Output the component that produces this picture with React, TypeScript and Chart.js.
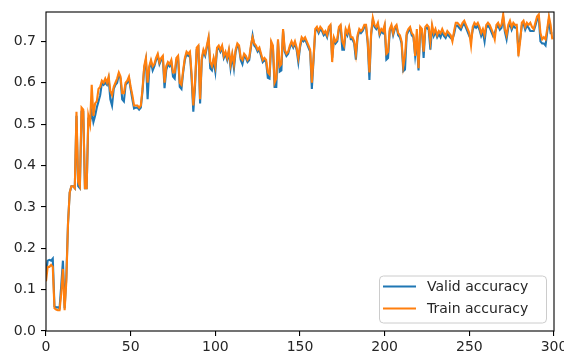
import React, { useEffect, useRef } from "react";
import { Chart, registerables } from "chart.js";

Chart.register(...registerables);

const epochs: number[] = Array.from({ length: 300 }, (_, i) => i);

const validAccuracy: number[] = [
  // 0-29
  0.14, 0.17, 0.172, 0.17, 0.175, 0.06, 0.057, 0.057, 0.055, 0.11,
  0.17, 0.055, 0.13, 0.26, 0.335, 0.35, 0.35, 0.345, 0.52, 0.35,
  0.345, 0.53, 0.53, 0.345, 0.345, 0.51, 0.505, 0.53, 0.505, 0.52,
  // 30-59
  0.54, 0.555, 0.57, 0.6, 0.595, 0.6, 0.595, 0.61, 0.56, 0.545,
  0.585, 0.595, 0.6, 0.62, 0.61, 0.56, 0.555, 0.595, 0.6, 0.61,
  0.585, 0.56, 0.538, 0.54, 0.54, 0.535, 0.54, 0.58, 0.635, 0.655,
  // 60-89
  0.56, 0.635, 0.65, 0.63, 0.64, 0.655, 0.665, 0.645, 0.655, 0.66,
  0.587, 0.63, 0.645, 0.64, 0.65, 0.615, 0.61, 0.655, 0.66, 0.59,
  0.585, 0.625, 0.655, 0.67, 0.665, 0.67, 0.61, 0.53, 0.59, 0.68,
  // 90-129
  0.685, 0.55, 0.655, 0.675, 0.665, 0.685, 0.705, 0.635, 0.63, 0.655,
  0.627, 0.68, 0.685, 0.675, 0.685, 0.66, 0.67, 0.655, 0.675, 0.636,
  0.665, 0.635, 0.675, 0.69, 0.685, 0.655, 0.645, 0.665, 0.66, 0.65,
  0.655, 0.685, 0.714, 0.69, 0.685, 0.675, 0.68, 0.665, 0.65, 0.655,
  // 130-169
  0.65, 0.612, 0.61, 0.695, 0.685, 0.59, 0.59, 0.7, 0.627, 0.63,
  0.725, 0.675, 0.665, 0.67, 0.685, 0.695, 0.685, 0.695, 0.68, 0.65,
  0.685, 0.705, 0.7, 0.705, 0.695, 0.685, 0.675, 0.585, 0.655, 0.725,
  0.73, 0.72, 0.73, 0.725, 0.715, 0.72, 0.71, 0.73, 0.735, 0.66,
  // 170-209
  0.705, 0.695, 0.7, 0.73, 0.735, 0.68, 0.68, 0.725, 0.715, 0.73,
  0.705, 0.705, 0.695, 0.656, 0.71, 0.725, 0.72, 0.725, 0.735, 0.735,
  0.695, 0.607, 0.715, 0.752, 0.735, 0.73, 0.74, 0.715, 0.725, 0.72,
  0.735, 0.656, 0.66, 0.725, 0.735, 0.715, 0.73, 0.735, 0.715, 0.71,
  // 210-249
  0.695, 0.628, 0.632, 0.715, 0.725, 0.73, 0.715, 0.71, 0.665, 0.7,
  0.63, 0.73, 0.725, 0.66, 0.73, 0.733, 0.728, 0.68, 0.733, 0.713,
  0.723, 0.71, 0.718, 0.71, 0.723, 0.713, 0.708, 0.718, 0.713, 0.708,
  0.705, 0.718, 0.738, 0.738, 0.733, 0.728, 0.738, 0.743, 0.733, 0.723,
  // 250-299
  0.713, 0.705, 0.728, 0.738, 0.733, 0.738, 0.728, 0.713, 0.723, 0.7,
  0.733, 0.738, 0.733, 0.723, 0.713, 0.72, 0.733, 0.738, 0.728, 0.733,
  0.758, 0.723, 0.705, 0.733, 0.743, 0.728, 0.738, 0.733, 0.733, 0.68,
  0.705, 0.738, 0.743, 0.728, 0.738, 0.733, 0.725, 0.725, 0.725, 0.738,
  0.753, 0.758, 0.7, 0.695, 0.695, 0.69, 0.723, 0.753, 0.72, 0.72,
];

const trainAccuracy: number[] = [
  // 0-29
  0.12, 0.155, 0.155, 0.16, 0.155, 0.055, 0.052, 0.05, 0.05, 0.09,
  0.15, 0.05, 0.12, 0.26, 0.335, 0.35, 0.35, 0.345, 0.53, 0.36,
  0.35, 0.54, 0.535, 0.345, 0.345, 0.52, 0.5, 0.595, 0.52, 0.55,
  // 30-59
  0.555, 0.585, 0.59, 0.605, 0.6, 0.61, 0.6, 0.615, 0.58, 0.57,
  0.59, 0.6, 0.61, 0.625, 0.615, 0.575, 0.575, 0.6, 0.605, 0.615,
  0.59, 0.57, 0.545, 0.545, 0.545, 0.54, 0.545, 0.585, 0.64, 0.66,
  // 60-89
  0.6, 0.64, 0.655, 0.64, 0.645, 0.66, 0.67, 0.65, 0.66, 0.665,
  0.6, 0.64, 0.65, 0.645, 0.655, 0.625, 0.625, 0.66, 0.665, 0.6,
  0.595, 0.63, 0.66, 0.675, 0.67, 0.675, 0.62, 0.545, 0.6, 0.685,
  // 90-129
  0.69, 0.56, 0.66, 0.68, 0.67, 0.69, 0.71, 0.65, 0.64, 0.66,
  0.64, 0.685, 0.69, 0.68, 0.69, 0.665, 0.675, 0.66, 0.68, 0.645,
  0.67, 0.645, 0.68, 0.695, 0.69, 0.66, 0.655, 0.67, 0.665, 0.655,
  0.66, 0.69, 0.71, 0.695, 0.69, 0.68, 0.685, 0.67, 0.655, 0.66,
  // 130-169
  0.655, 0.625, 0.62, 0.7, 0.69, 0.6, 0.61, 0.705, 0.64, 0.645,
  0.73, 0.68, 0.67, 0.675, 0.69, 0.7, 0.69, 0.7, 0.685, 0.66,
  0.69, 0.71, 0.705, 0.71, 0.7, 0.69, 0.68, 0.6, 0.66, 0.73,
  0.735, 0.725, 0.735, 0.73, 0.72, 0.725, 0.715, 0.735, 0.74, 0.65,
  // 170-209
  0.71, 0.7, 0.705, 0.735, 0.74, 0.7, 0.69, 0.73, 0.72, 0.735,
  0.71, 0.71, 0.7, 0.67, 0.715, 0.73, 0.725, 0.73, 0.74, 0.74,
  0.7, 0.625, 0.72, 0.757, 0.74, 0.735, 0.745, 0.72, 0.73, 0.725,
  0.74, 0.67, 0.675, 0.73, 0.74, 0.72, 0.735, 0.74, 0.72, 0.715,
  // 210-249
  0.7, 0.64, 0.665, 0.72, 0.73, 0.735, 0.72, 0.715, 0.665, 0.73,
  0.635, 0.735, 0.73, 0.675, 0.735, 0.74, 0.735, 0.7, 0.74, 0.72,
  0.73, 0.715, 0.725, 0.72, 0.73, 0.72, 0.715, 0.725, 0.72, 0.715,
  0.7, 0.725, 0.745, 0.745, 0.74, 0.735, 0.745, 0.75, 0.74, 0.73,
  // 250-299
  0.72, 0.69, 0.735, 0.745, 0.74, 0.745, 0.735, 0.72, 0.73, 0.715,
  0.74, 0.745, 0.74, 0.73, 0.72, 0.705, 0.74, 0.745, 0.735, 0.74,
  0.765, 0.73, 0.715, 0.74, 0.75, 0.735, 0.745, 0.74, 0.74, 0.664,
  0.7, 0.745, 0.75, 0.735, 0.745, 0.74, 0.745, 0.735, 0.73, 0.745,
  0.76, 0.765, 0.72, 0.705, 0.71, 0.705, 0.73, 0.76, 0.74, 0.705,
];

const xTicks: number[] = [0, 50, 100, 150, 200, 250, 300];
const yTicks: number[] = [0, 0.1, 0.2, 0.3, 0.4, 0.5, 0.6, 0.7];
const seriesNames: string[] = ["Valid accuracy", "Train accuracy"];
const seriesColors: string[] = ["#1f77b4", "#ff7f0e"];

const FONT = "'DejaVu Sans', sans-serif";
const TEXT_COLOR = "#262626";

const framePlugin = {
  id: "frameAndLegend",
  afterDraw(chart: any) {
    const { ctx, chartArea } = chart;
    const { left, right, top, bottom } = chartArea;
    ctx.save();
    // spines
    ctx.strokeStyle = "#000";
    ctx.lineWidth = 1.1;
    ctx.strokeRect(left, top, right - left, bottom - top);

    // legend (lower right, inside axes)
    const bx = 379.5, by = 276, bw = 167, bh = 47, r = 4;
    ctx.beginPath();
    ctx.moveTo(bx + r, by);
    ctx.lineTo(bx + bw - r, by);
    ctx.quadraticCurveTo(bx + bw, by, bx + bw, by + r);
    ctx.lineTo(bx + bw, by + bh - r);
    ctx.quadraticCurveTo(bx + bw, by + bh, bx + bw - r, by + bh);
    ctx.lineTo(bx + r, by + bh);
    ctx.quadraticCurveTo(bx, by + bh, bx, by + bh - r);
    ctx.lineTo(bx, by + r);
    ctx.quadraticCurveTo(bx, by, bx + r, by);
    ctx.closePath();
    ctx.fillStyle = "rgba(255,255,255,0.8)";
    ctx.fill();
    ctx.strokeStyle = "#cccccc";
    ctx.lineWidth = 1;
    ctx.stroke();

    const rows = [286.5, 308.5];
    ctx.font = `14px ${FONT}`;
    ctx.textBaseline = "middle";
    ctx.textAlign = "left";
    seriesNames.forEach((name, i) => {
      ctx.strokeStyle = seriesColors[i];
      ctx.lineWidth = 2.1;
      ctx.beginPath();
      ctx.moveTo(383, rows[i]);
      ctx.lineTo(416, rows[i]);
      ctx.stroke();
      ctx.fillStyle = TEXT_COLOR;
      ctx.fillText(name, 427, rows[i] + 0.5);
    });
    ctx.restore();
  },
};

export default function App() {
  const canvasRef = useRef<HTMLCanvasElement | null>(null);

  useEffect(() => {
    document.body.style.margin = "0";
    const canvas = canvasRef.current;
    if (!canvas) return;

    const toPoints = (arr: number[]) => epochs.map((e, i) => ({ x: e, y: arr[i] }));

    const chart = new Chart(canvas, {
      type: "line",
      data: {
        datasets: [
          {
            label: seriesNames[0],
            data: toPoints(validAccuracy),
            borderColor: seriesColors[0],
            backgroundColor: seriesColors[0],
            borderWidth: 2.1,
            pointRadius: 0,
            tension: 0,
            fill: false,
            order: 1,
          },
          {
            label: seriesNames[1],
            data: toPoints(trainAccuracy),
            borderColor: seriesColors[1],
            backgroundColor: seriesColors[1],
            borderWidth: 2.1,
            pointRadius: 0,
            tension: 0,
            fill: false,
            order: 0,
          },
        ],
      },
      options: {
        animation: false,
        responsive: false,
        devicePixelRatio: 1,
        events: [],
        layout: { padding: { top: 12, right: 10, left: 0, bottom: 0 } },
        plugins: {
          legend: { display: false },
          tooltip: { enabled: false },
          title: { display: false },
        },
        scales: {
          x: {
            type: "linear",
            min: 0,
            max: 300,
            border: { display: false },
            grid: {
              drawOnChartArea: false,
              drawTicks: true,
              tickLength: 5,
              color: "#000",
              lineWidth: 1.1,
            },
            ticks: {
              color: TEXT_COLOR,
              font: { family: FONT, size: 14 },
              padding: 3,
              maxRotation: 0,
              callback: (v: any) => String(v),
            },
            afterBuildTicks: (scale: any) => {
              scale.ticks = xTicks.map((v) => ({ value: v }));
            },
            afterFit: (scale: any) => {
              scale.height = 23;
              scale.paddingLeft = 0;
              scale.paddingRight = 0;
            },
          },
          y: {
            type: "linear",
            min: 0,
            max: 0.771,
            border: { display: false },
            grid: {
              drawOnChartArea: false,
              drawTicks: true,
              tickLength: 5,
              color: "#000",
              lineWidth: 1.1,
            },
            ticks: {
              color: TEXT_COLOR,
              font: { family: FONT, size: 14 },
              padding: 5,
              callback: (v: any) => Number(v).toFixed(1),
            },
            afterBuildTicks: (scale: any) => {
              scale.ticks = yTicks.map((v) => ({ value: v }));
            },
            afterFit: (scale: any) => {
              scale.width = 46;
              scale.paddingTop = 0;
              scale.paddingBottom = 0;
            },
          },
        },
      },
      plugins: [framePlugin],
    });

    return () => chart.destroy();
  }, []);

  return (
    <div style={{ position: "absolute", left: 0, top: 0, width: 564, height: 354, background: "#fff" }}>
      <canvas ref={canvasRef} width={564} height={354} style={{ display: "block", width: 564, height: 354 }} />
    </div>
  );
}
